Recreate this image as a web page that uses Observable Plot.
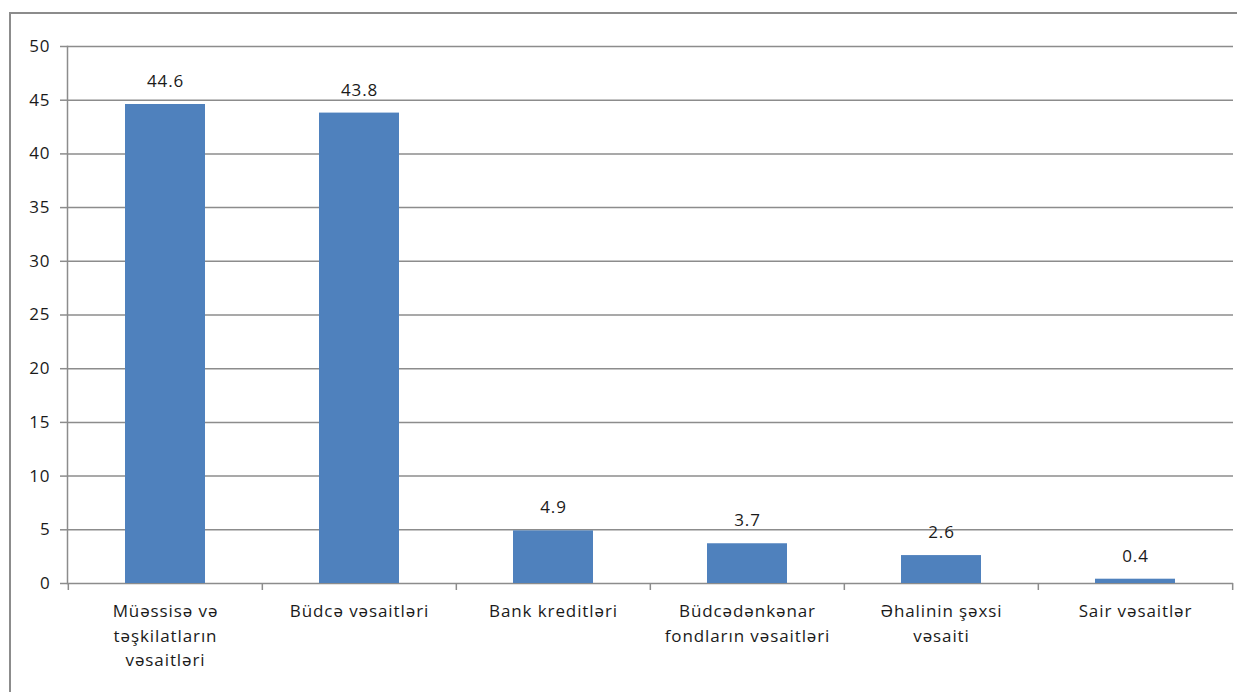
<!DOCTYPE html>
<html>
<head>
<meta charset="utf-8">
<script src="https://cdn.jsdelivr.net/npm/d3@7"></script>
<script src="https://cdn.jsdelivr.net/npm/@observablehq/plot@0.6"></script>
<style>
  html, body { margin: 0; padding: 0; background: #fff; overflow: hidden; }
  #wrap { position: relative; width: 1237px; height: 692px; }
  #border { position: absolute; left: 9px; top: 12px; width: 1300px; height: 800px; border: 2px solid #8c8c8c; box-sizing: border-box; }
  #chart { position: absolute; left: 0; top: 0; }
</style>
</head>
<body>
<div id="wrap"><div id="border"></div><div id="chart"></div></div>
<script>
const categories = ["Müəssisə və təşkilatların vəsaitləri", "Büdcə vəsaitləri", "Bank kreditləri", "Büdcədənkənar fondların vəsaitləri", "Əhalinin şəxsi vəsaiti", "Sair vəsaitlər"];
const tickLabels = ["Müəssisə və\ntəşkilatların\nvəsaitləri", "Büdcə vəsaitləri", "Bank kreditləri", "Büdcədənkənar\nfondların vəsaitləri", "Əhalinin şəxsi\nvəsaiti", "Sair vəsaitlər"];
const values = [44.6, 43.8, 4.9, 3.7, 2.6, 0.4];
const yTicks = [0, 5, 10, 15, 20, 25, 30, 35, 40, 45, 50];

const data = categories.map((c, i) => ({category: c, value: values[i]}));
const labelOf = new Map(categories.map((c, i) => [c, tickLabels[i]]));

const width = 1237, height = 692;
const marginLeft = 67, marginRight = 4;
const step = (width - marginLeft - marginRight) / categories.length;

const chart = Plot.plot({
  width, height,
  marginLeft, marginRight, marginTop: 46, marginBottom: 109,
  style: {fontFamily: "'Open Sans', 'Noto Sans', sans-serif", fontSize: "17px", letterSpacing: "0.9px", color: "#1a1a1a", background: "transparent"},
  x: {domain: categories, paddingInner: 0.59, paddingOuter: 0.295, label: null},
  y: {domain: [0, 50], label: null},
  marks: [
    Plot.gridY(yTicks, {stroke: "#8c8c8c", strokeOpacity: 1, strokeWidth: 1.5}),
    Plot.barY(data, {x: "category", y: "value", fill: "#4f81bd"}),
    Plot.text(data, {x: "category", y: "value", text: d => d.value.toFixed(1), dy: -23, fontSize: 17, fill: "#1a1a1a"}),
    Plot.frame({anchor: "left", stroke: "#8c8c8c", strokeWidth: 1.5}),
    Plot.ruleX(categories, {x: d => d, dx: -step / 2, y1: 0, y2: -0.65, stroke: "#8c8c8c", strokeWidth: 1.5}),
    Plot.ruleX(categories.slice(-1), {x: d => d, dx: step / 2, y1: 0, y2: -0.65, stroke: "#8c8c8c", strokeWidth: 1.5}),
    Plot.axisY(yTicks, {tickSize: 7, tickPadding: 10, stroke: "#8c8c8c", strokeWidth: 1.5, fontSize: 17, fill: "#1a1a1a", label: null}),
    Plot.axisX({tickSize: 0, tickPadding: 16, tickFormat: d => labelOf.get(d), fontSize: 17, lineHeight: 1.45, fill: "#1a1a1a", label: null})
  ]
});
document.getElementById("chart").appendChild(chart);
</script>
</body>
</html>
